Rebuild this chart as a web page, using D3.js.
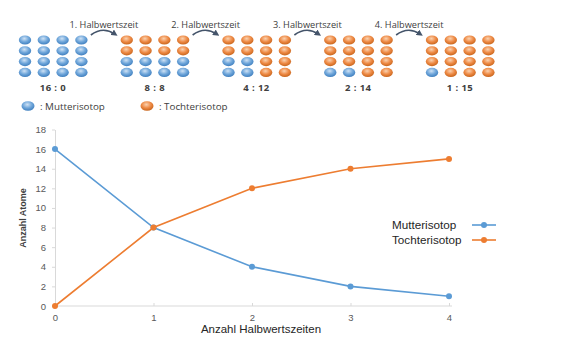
<!DOCTYPE html>
<html><head><meta charset="utf-8">
<script src="https://cdn.jsdelivr.net/npm/d3@7"></script>
<style>body{margin:0;background:#fff}svg{display:block}</style>
</head><body>
<script>
const halfLives = [0, 1, 2, 3, 4];
const mutter = [16, 8, 4, 2, 1];
const tochter = [0, 8, 12, 14, 15];
const yTicks = [0, 2, 4, 6, 8, 10, 12, 14, 16, 18];
const stepLabels = ["1. Halbwertszeit", "2. Halbwertszeit", "3. Halbwertszeit", "4. Halbwertszeit"];
const seriesNames = ["Mutterisotop", "Tochterisotop"];
const ratioLabels = halfLives.map((d, i) => mutter[i] + " : " + tochter[i]);

const W = 570, H = 350;
const blue = "#5b9bd5", orange = "#ed7d31";
const svg = d3.select("body").append("svg").attr("width", W).attr("height", H);
const defs = svg.append("defs");
function grad(id, c0, c1, c2) {
  const g = defs.append("radialGradient").attr("id", id).attr("cx", "45%").attr("cy", "35%").attr("r", "65%");
  g.append("stop").attr("offset", "0%").attr("stop-color", c0);
  g.append("stop").attr("offset", "55%").attr("stop-color", c1);
  g.append("stop").attr("offset", "100%").attr("stop-color", c2);
}
grad("gb", "#cfe2f5", "#6fa6da", "#3f7fbf");
grad("go", "#fad2b0", "#ee8a45", "#c8651c");
defs.append("marker").attr("id", "arr").attr("viewBox", "0 0 10 10").attr("refX", 5).attr("refY", 5)
  .attr("markerWidth", 4).attr("markerHeight", 4).attr("orient", "auto")
  .append("path").attr("d", "M0,0 L10,5 L0,10 z").attr("fill", "#44546a");

// ---- top diagram ----
const gridX = d3.scaleLinear().domain([0, 4]).range([25, 432]);
// order in which mother isotopes remain (row, col), rows 0..3 top->bottom
const fillOrder = [[3,0],[3,1],[2,0],[2,1],[3,2],[3,3],[2,2],[2,3],[1,0],[1,1],[1,2],[1,3],[0,0],[0,1],[0,2],[0,3]];
halfLives.forEach((h, i) => {
  const gx = gridX(i);
  const g = svg.append("g");
  const balls = [];
  for (let r = 0; r < 4; r++) for (let c = 0; c < 4; c++) {
    const idx = fillOrder.findIndex(p => p[0] === r && p[1] === c);
    balls.push({r, c, blue: idx < mutter[i]});
  }
  g.selectAll("ellipse").data(balls).join("ellipse")
    .attr("cx", d => gx + d.c * 18.8).attr("cy", d => 40 + d.r * 10.8)
    .attr("rx", 6.2).attr("ry", 4.6)
    .attr("fill", d => d.blue ? "url(#gb)" : "url(#go)");
  svg.append("text").attr("x", gx + 28).attr("y", 91).attr("text-anchor", "middle")
    .attr("font-family", "Open Sans, sans-serif").attr("font-weight", "bold").attr("font-size", 9.5)
    .attr("fill", "#404040").attr("letter-spacing", 0.4).text(ratioLabels[i]);
});
stepLabels.forEach((s, i) => {
  const cx = (gridX(i) + gridX(i + 1)) / 2 + 28;
  svg.append("text").attr("x", cx).attr("y", 28).attr("text-anchor", "middle")
    .attr("font-family", "Open Sans, sans-serif").attr("font-size", 9.2).attr("fill", "#404040").text(s);
  const x0 = cx - 13, x1 = cx + 11;
  svg.append("path").attr("d", `M${x0},35 Q${(x0 + x1) / 2},26 ${x1},34`)
    .attr("fill", "none").attr("stroke", "#44546a").attr("stroke-width", 1.6).attr("marker-end", "url(#arr)");
});
// diagram legend
[["url(#gb)", ": " + seriesNames[0], 28], ["url(#go)", ": " + seriesNames[1], 147]].forEach(l => {
  svg.append("ellipse").attr("cx", l[2]).attr("cy", 106).attr("rx", 6.5).attr("ry", 4.8).attr("fill", l[0]);
  svg.append("text").attr("x", l[2] + 12).attr("y", 109.5).attr("font-family", "Open Sans, sans-serif")
    .attr("font-size", 9.8).attr("fill", "#404040").text(l[1]);
});

// ---- line chart ----
const x = d3.scaleLinear().domain([0, 4]).range([55, 449]);
const y = d3.scaleLinear().domain([0, 18]).range([306, 129.5]);
const axisCol = "#d9d9d9", tickTxt = "#595959";
const xAxis = svg.append("g").attr("transform", "translate(0,306)")
  .call(d3.axisBottom(x).tickValues(halfLives).tickFormat(d3.format("d")).tickSize(-3).tickSizeOuter(0));
xAxis.select(".domain").attr("stroke", axisCol).attr("d", "M55,0H452");
const yAxis = svg.append("g").attr("transform", "translate(55,0)")
  .call(d3.axisLeft(y).tickValues(yTicks).tickSize(3).tickSizeOuter(0));
yAxis.select(".domain").attr("stroke", axisCol);
[xAxis, yAxis].forEach(a => {
  a.selectAll(".tick line").attr("stroke", axisCol);
  a.selectAll("text").attr("fill", tickTxt).attr("font-family", "Liberation Sans, Arial, sans-serif").attr("font-size", 9.5);
});
xAxis.selectAll("text").attr("y", 8);
yAxis.selectAll("text").attr("x", -9);

const line = d3.line().x((d, i) => x(halfLives[i])).y(d => y(d));
[[mutter, blue], [tochter, orange]].forEach(([vals, col]) => {
  svg.append("path").datum(vals).attr("d", line).attr("fill", "none").attr("stroke", col).attr("stroke-width", 1.6);
  svg.append("g").selectAll("circle").data(vals).join("circle")
    .attr("cx", (d, i) => x(halfLives[i])).attr("cy", d => y(d)).attr("r", 3).attr("fill", col);
});

svg.append("text").attr("x", 261).attr("y", 333).attr("text-anchor", "middle")
  .attr("font-family", "Liberation Sans, Arial, sans-serif").attr("font-size", 11.5).attr("fill", "#262626")
  .text("Anzahl Halbwertszeiten");
svg.append("text").attr("transform", "translate(26,218) rotate(-90)").attr("text-anchor", "middle")
  .attr("font-family", "Liberation Sans Narrow, Arial Narrow, sans-serif").attr("font-weight", "bold")
  .attr("font-size", 9).attr("fill", "#404040").text("Anzahl Atome");

// chart legend
[[seriesNames[0], blue, 225], [seriesNames[1], orange, 240]].forEach(([n, col, ly]) => {
  svg.append("text").attr("x", 392).attr("y", ly + 4).attr("font-family", "Liberation Sans, Arial, sans-serif")
    .attr("font-size", 11.7).attr("fill", "#262626").text(n);
  svg.append("line").attr("x1", 472).attr("x2", 496).attr("y1", ly).attr("y2", ly).attr("stroke", col).attr("stroke-width", 1.6);
  svg.append("circle").attr("cx", 484).attr("cy", ly).attr("r", 3).attr("fill", col);
});
</script>
</body></html>
